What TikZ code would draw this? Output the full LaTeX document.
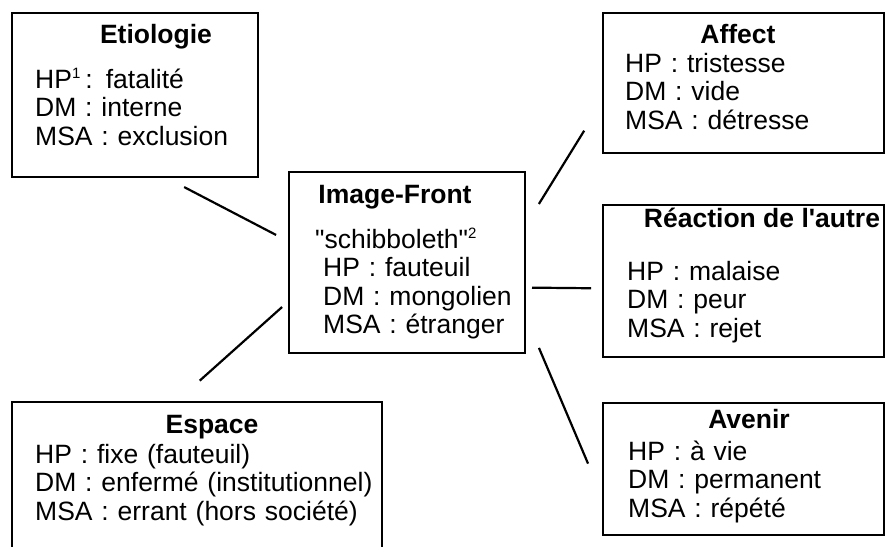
\documentclass[tikz,border=0pt]{standalone}
\usepackage{fontspec}
\setmainfont{Liberation Sans}[Ligatures=TeXOff]
\usepackage{tikz}

\begin{document}
\begin{tikzpicture}[x=1pt,y=-1pt,
  box/.style={draw, line width=1.8pt, inner sep=0pt, outer sep=0pt},
  titre/.style={font=\bfseries\fontsize{26.5}{28.5}\selectfont, anchor=base, inner sep=0pt},
  corps/.style={font=\fontsize{26.5}{28.5}\selectfont, anchor=base west, align=left, text width=360pt, inner sep=0pt},
  lien/.style={line width=2.2pt}]
\useasboundingbox (0,0) rectangle (885,546);
\node [box, minimum width=246, minimum height=164] (etio) at (135,95) {};
\node [box, minimum width=281, minimum height=140] (affect) at (743.5,83) {};
\node [box, minimum width=281, minimum height=152] (reaction) at (743.5,281) {};
\node [box, minimum width=236, minimum height=181] (front) at (407,262.5) {};
\node [box, minimum width=370, minimum height=158] (espace) at (197,481) {};
\node [box, minimum width=281, minimum height=132] (avenir) at (743.5,469) {};
\node [titre] (etiot) at (156,43) {Etiologie};
\node [corps] (etiob) at (35,88) {HP\textsuperscript{\fontsize{15}{15}\selectfont 1}\,: fatalité\\DM : interne\\MSA : exclusion};
\node [titre] (affectt) at (738,43) {Affect};
\node [corps] (affectb) at (625,72) {HP : tristesse\\DM : vide\\MSA : détresse};
\node [titre] (reactiont) at (762,227) {Réaction de l'autre};
\node [corps] (reactionb) at (627,280) {HP : malaise\\DM : peur\\MSA : rejet};
\node [titre] (frontt) at (395,203) {Image-Front};
\node [corps] (frontb) at (315,248) {"schibboleth"\textsuperscript{\fontsize{15}{15}\selectfont 2}\\\hspace*{8pt}HP : fauteuil\\\hspace*{8pt}DM : mongolien\\\hspace*{8pt}MSA : étranger};
\node [titre] (espacet) at (212,433) {Espace};
\node [corps] (espaceb) at (35,463) {HP : fixe (fauteuil)\\DM : enfermé (institutionnel)\\MSA : errant (hors société)};
\node [titre] (avenirt) at (749,428) {Avenir};
\node [corps] (avenirb) at (628,460) {HP : à vie\\DM : permanent\\MSA : répété};
\draw [lien, shorten <=21.8pt, shorten >=14.6pt] (etio.-70.8) -- (front.170);
\draw [lien, shorten <=9.3pt, shorten >=32pt] (front.198.9) -- (espace.105.7);
\draw [lien, shorten <=26.4pt, shorten >=35.8pt] (front.17.45) -- (affect.187.1);
\draw [lien, shorten <=7pt, shorten >=12pt] (front.-12.66) -- (reaction.183.3);
\draw [lien, shorten <=35.7pt, shorten >=38.3pt] (front.-24.8) -- (avenir.192.5);
\end{tikzpicture}
\end{document}
